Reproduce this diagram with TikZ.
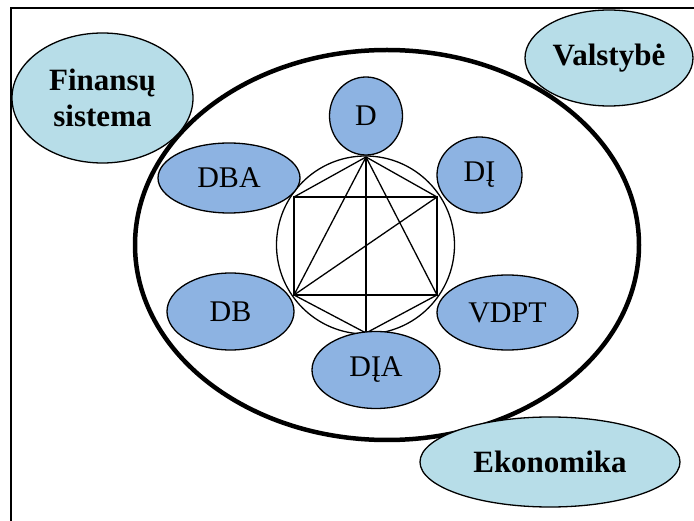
\documentclass[tikz,border=0pt]{standalone}
\usepackage{fontspec}
\setmainfont{Liberation Serif}
\usetikzlibrary{shapes.geometric}
\definecolor{inner}{HTML}{8DB3E2}
\definecolor{outer}{HTML}{B7DDE8}
\tikzset{
  part/.style={draw, ellipse, fill=inner, line width=1.3pt, inner sep=0pt,
    font=\fontsize{30}{34}\selectfont},
  sector/.style={draw, ellipse, fill=outer, line width=1.3pt, inner sep=0pt,
    align=center, font=\fontsize{31}{36}\selectfont\bfseries},
  link/.style={line width=1.3pt}
}

\begin{document}
\begin{tikzpicture}[x=1pt, y=-1pt]
  \clip (0,0) rectangle (694,521);
  % frame
  \draw[line width=1.3pt] (11,540) -- (11,8) -- (710,8);

  \node (R) [draw, ellipse, line width=4.5pt, minimum width=504pt, minimum height=390pt] at (387,245) {};
  \node (C) [draw, circle, line width=1.3pt, minimum size=178pt] at (365.5,245) {};

  \coordinate (top) at (366,157);
  \coordinate (bot) at (366,333);
  \coordinate (tl) at (294,197);
  \coordinate (tr) at (437,197);
  \coordinate (bl) at (294,295);
  \coordinate (br) at (437,295);

  \draw[link] (tl) -- (tr) -- (br) -- (bl) -- cycle;
  \draw[link] (top) -- (tl);
  \draw[link] (top) -- (tr);
  \draw[link] (top) -- (bl);
  \draw[link] (top) -- (br);
  \draw[link] (top) -- (bot);
  \draw[link] (bl) -- (tr);
  \draw[link] (bl) -- (bot);
  \draw[link] (br) -- (bot);

  \node (D) [part, minimum width=73pt, minimum height=78pt] at (366,116) {D};
  \node (DBA) [part, minimum width=142pt, minimum height=70pt] at (229,178) {DBA};
  \node (DI) [part, minimum width=85pt, minimum height=76pt] at (479.5,175) {DĮ};
  \node (DB) [part, minimum width=127pt, minimum height=77pt] at (230.5,311.5) {DB};
  \node (DIA) [part, minimum width=128pt, minimum height=77pt] at (376,370) {DĮA};
  \node (VDPT) [part, minimum width=141pt, minimum height=75pt] at (507.5,312.5) {VDPT};

  \node (FS) [sector, minimum width=181pt, minimum height=130pt] at (102.5,98) {Finansų\\sistema};
  \node (V) [sector, minimum width=168pt, minimum height=96pt] at (609,58) {Valstybė};
  \node (E) [sector, minimum width=260pt, minimum height=90pt] at (550,462) {Ekonomika};
\end{tikzpicture}
\end{document}
